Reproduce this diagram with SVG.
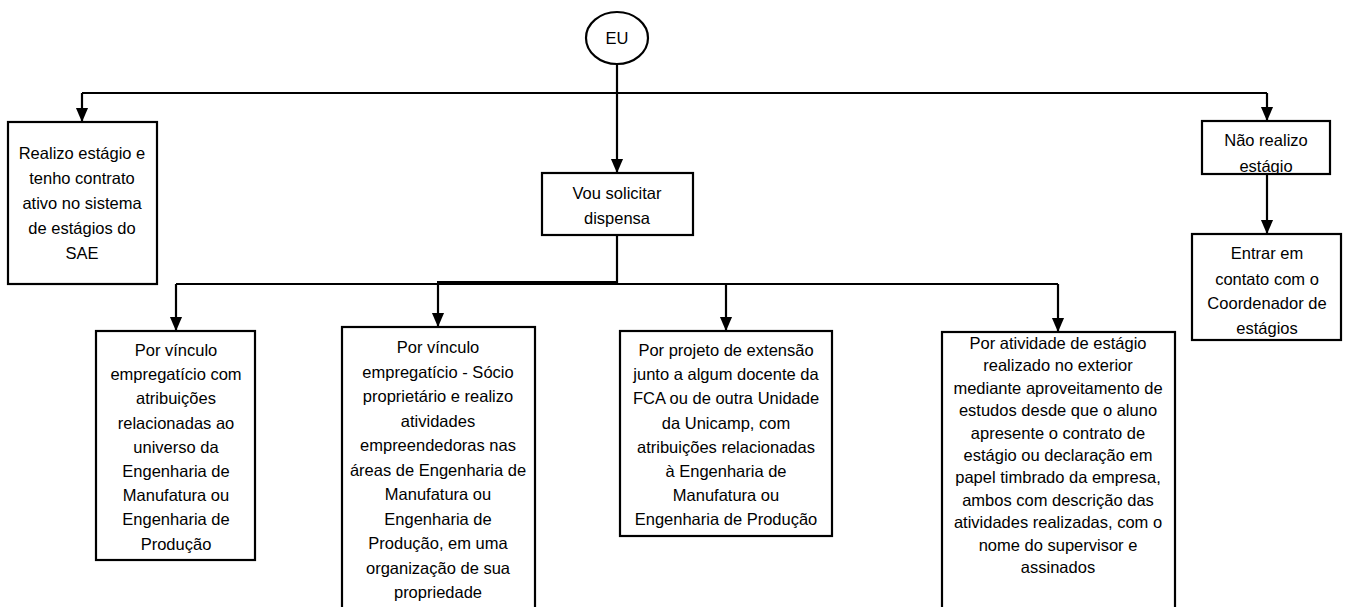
<svg xmlns="http://www.w3.org/2000/svg" width="1345" height="607" viewBox="0 0 1345 607">
<style>
.box{fill:#fff;stroke:#000;stroke-width:2.2}
.t{font-family:"Liberation Sans",Arial,sans-serif;font-size:16.5px;fill:#000;text-anchor:middle}
.c{fill:none;stroke:#000;stroke-width:2.2}
</style>
<defs>
<marker id="ah" markerUnits="userSpaceOnUse" markerWidth="14" markerHeight="16" refX="7" refY="15" orient="auto-start-reverse" viewBox="0 0 14 16">
<path d="M0,0 L14,0 L7,16 Z" fill="#000" transform="rotate(0)"/>
</marker>
<marker id="ad" markerUnits="userSpaceOnUse" markerWidth="14" markerHeight="16" refX="15" refY="7" orient="auto" viewBox="0 0 16 14">
<path d="M0,0 L16,7 L0,14 Z" fill="#000"/>
</marker>
</defs>
<rect width="1345" height="607" fill="#fff"/>
<g id="connectors">
<path class="c" d="M617,64 V172" marker-end="url(#ad)"/>
<path class="c" d="M82,93 H1267"/>
<path class="c" d="M82,93 V121" marker-end="url(#ad)"/>
<path class="c" d="M1267,93 V120" marker-end="url(#ad)"/>
<path class="c" d="M617,235 V283"/>
<path class="c" d="M176,284 H1058"/>
<path class="c" d="M437,282 H617" stroke-width="3.5"/>
<path class="c" d="M176,284 V330" marker-end="url(#ad)"/>
<path class="c" d="M438,283 V326" marker-end="url(#ad)"/>
<path class="c" d="M726,284 V330" marker-end="url(#ad)"/>
<path class="c" d="M1058,284 V331" marker-end="url(#ad)"/>
<path class="c" d="M1267,174 V233" marker-end="url(#ad)"/>
</g>
<g id="eu">
<ellipse cx="617" cy="38" rx="31" ry="26" fill="#fff" stroke="#000" stroke-width="2.2"/>
<text class="t" x="617" y="44">EU</text>
</g>
<g id="realizo">
<rect class="box" x="8" y="122" width="149" height="162"/>
<text class="t"><tspan x="82" y="159">Realizo estágio e</tspan><tspan x="82" y="184">tenho contrato</tspan><tspan x="82" y="209">ativo no sistema</tspan><tspan x="82" y="234">de estágios do</tspan><tspan x="82" y="259">SAE</tspan></text>
</g>
<g id="vou">
<rect class="box" x="542" y="173" width="151" height="62"/>
<text class="t"><tspan x="617" y="199">Vou solicitar</tspan><tspan x="617" y="224">dispensa</tspan></text>
</g>
<g id="nao">
<rect class="box" x="1202" y="121" width="128" height="53"/>
<text class="t"><tspan x="1266" y="146">Não realizo</tspan><tspan x="1266" y="172">estágio</tspan></text>
</g>
<g id="entrar">
<rect class="box" x="1192" y="234" width="149" height="106"/>
<text class="t"><tspan x="1267" y="259">Entrar em</tspan><tspan x="1267" y="285">contato com o</tspan><tspan x="1267" y="309">Coordenador de</tspan><tspan x="1267" y="334">estágios</tspan></text>
</g>
<g id="b1">
<rect class="box" x="96" y="331" width="159" height="229"/>
<text class="t"><tspan x="176" y="356">Por vínculo</tspan><tspan x="176" y="380.2">empregatício com</tspan><tspan x="176" y="404.4">atribuições</tspan><tspan x="176" y="428.6">relacionadas ao</tspan><tspan x="176" y="452.8">universo da</tspan><tspan x="176" y="477">Engenharia de</tspan><tspan x="176" y="501.2">Manufatura ou</tspan><tspan x="176" y="525.4">Engenharia de</tspan><tspan x="176" y="549.6">Produção</tspan></text>
</g>
<g id="b2">
<rect class="box" x="342" y="327" width="193" height="290"/>
<text class="t"><tspan x="438" y="353">Por vínculo</tspan><tspan x="438" y="377.5">empregatício - Sócio</tspan><tspan x="438" y="402">proprietário e realizo</tspan><tspan x="438" y="426.5">atividades</tspan><tspan x="438" y="451">empreendedoras nas</tspan><tspan x="438" y="475.5">áreas de Engenharia de</tspan><tspan x="438" y="500">Manufatura ou</tspan><tspan x="438" y="524.5">Engenharia de</tspan><tspan x="438" y="549">Produção, em uma</tspan><tspan x="438" y="573.5">organização de sua</tspan><tspan x="438" y="598">propriedade</tspan></text>
</g>
<g id="b3">
<rect class="box" x="620" y="331" width="212" height="205"/>
<text class="t"><tspan x="726" y="356">Por projeto de extensão</tspan><tspan x="726" y="380.2">junto a algum docente da</tspan><tspan x="726" y="404.4">FCA ou de outra Unidade</tspan><tspan x="726" y="428.6">da Unicamp, com</tspan><tspan x="726" y="452.8">atribuições relacionadas</tspan><tspan x="726" y="477">à Engenharia de</tspan><tspan x="726" y="501.2">Manufatura ou</tspan><tspan x="726" y="525.4">Engenharia de Produção</tspan></text>
</g>
<g id="b4">
<rect class="box" x="942" y="332" width="233" height="290"/>
<text class="t"><tspan x="1058" y="349">Por atividade de estágio</tspan><tspan x="1058" y="371.4">realizado no exterior</tspan><tspan x="1058" y="393.8">mediante aproveitamento de</tspan><tspan x="1058" y="416.2">estudos desde que o aluno</tspan><tspan x="1058" y="438.6">apresente o contrato de</tspan><tspan x="1058" y="461">estágio ou declaração em</tspan><tspan x="1058" y="483.4">papel timbrado da empresa,</tspan><tspan x="1058" y="505.8">ambos com descrição das</tspan><tspan x="1058" y="528.2">atividades realizadas, com o</tspan><tspan x="1058" y="550.6">nome do supervisor e</tspan><tspan x="1058" y="573">assinados</tspan></text>
</g>
</svg>
